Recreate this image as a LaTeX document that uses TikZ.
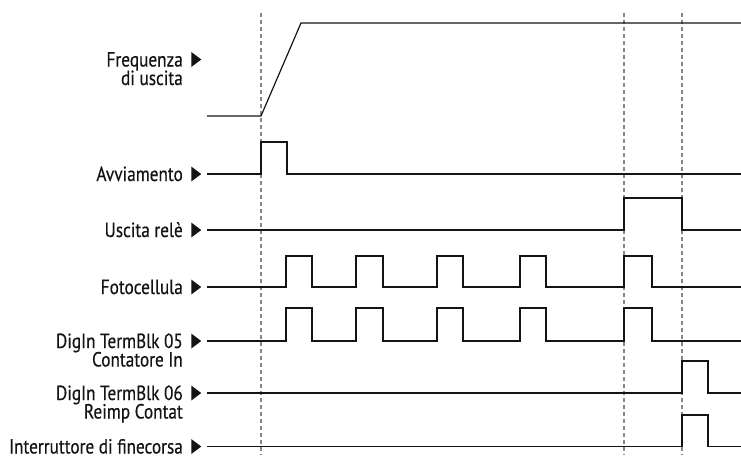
\documentclass[tikz,border=0pt]{standalone}
\usepackage{fontspec}
\setmainfont[FakeStretch=0.84, FakeBold=0.4]{PT Sans}
\usepackage{tikz}
\usetikzlibrary{shapes.geometric, positioning, calc}
\definecolor{sigblack}{RGB}{20,20,20}
\definecolor{guidegray}{RGB}{135,135,135}
\tikzset{
  lbl/.style={anchor=east, inner sep=0pt, text height=14pt, text depth=0pt,
    font=\fontsize{20.5}{18}\selectfont, color=sigblack},
  tri/.style={isosceles triangle, isosceles triangle stretches, fill=sigblack,
    inner sep=0pt, minimum width=15pt, minimum height=10pt},
  guide/.style={dashed, dash pattern=on 4pt off 3pt, color=guidegray, line width=1.1pt},
  sig/.style={color=sigblack, line width=1.2pt}
}

\begin{document}
\begin{tikzpicture}[x=1pt, y=-1pt]
  \useasboundingbox (0,0) rectangle (741,455);

  % Time markers
  \draw[guide] (261,13) -- (261,455);
  \draw[guide] (624,13) -- (624,455);
  \draw[guide] (682,13) -- (682,455);

  % Labels
  \node[lbl] (fq) at (183,59.5) {Frequenza};
  \node[lbl, anchor=base east] (fq2) at ([yshift=-18.5pt]fq.base east) {di uscita};
  \node[lbl] (avv) at (183,174) {Avviamento};
  \node[lbl] (rel) at (183,230) {Uscita relè};
  \node[lbl] (foto) at (183,287) {Fotocellula};
  \node[lbl] (d05) at (183,341) {DigIn TermBlk 05};
  \node[lbl, anchor=base east] (d05b) at ([yshift=-18.5pt]d05.base east) {Contatore In};
  \node[lbl] (d06) at (183,393) {DigIn TermBlk 06};
  \node[lbl, anchor=base east] (d06b) at ([yshift=-18.5pt]d06.base east) {Reimp Contat};
  \node[lbl] (fine) at (183,446.5) {Interruttore di finecorsa};

  % Markers
  \node[tri] (t-fq) at (195,59.5) {};
  \node[tri] (t-avv) at (195,174) {};
  \node[tri] (t-rel) at (195,230) {};
  \node[tri] (t-foto) at (195,287) {};
  \node[tri] (t-d05) at (195,341) {};
  \node[tri] (t-d06) at (195,393) {};
  \node[tri] (t-fine) at (195,446.5) {};

  % Waveforms
  \draw[sig] (207,116) -- (261,116) -- (301,23) -- (741,23);
  \draw[sig] (207,174) -- (261,174) -- (261,142) -- (287,142) -- (287,174) -- (741,174);
  \draw[sig] (207,230) -- (624,230) -- (624,198) -- (682,198) -- (682,230) -- (741,230);
  \draw[sig] (207,287) \foreach \a/\b in {286/312, 356/383, 437/463, 520/546, 624/652}
    { -- (\a,287) -- (\a,256) -- (\b,256) -- (\b,287) } -- (741,287);
  \draw[sig] (207,341) \foreach \a/\b in {286/312, 356/383, 437/463, 520/546, 624/652}
    { -- (\a,341) -- (\a,308) -- (\b,308) -- (\b,341) } -- (741,341);
  \draw[sig] (207,393) -- (682,393) -- (682,361) -- (708,361) -- (708,393) -- (741,393);
  \draw[sig] (207,446.5) -- (682,446.5) -- (682,415) -- (708,415) -- (708,446.5) -- (741,446.5);
\end{tikzpicture}
\end{document}
